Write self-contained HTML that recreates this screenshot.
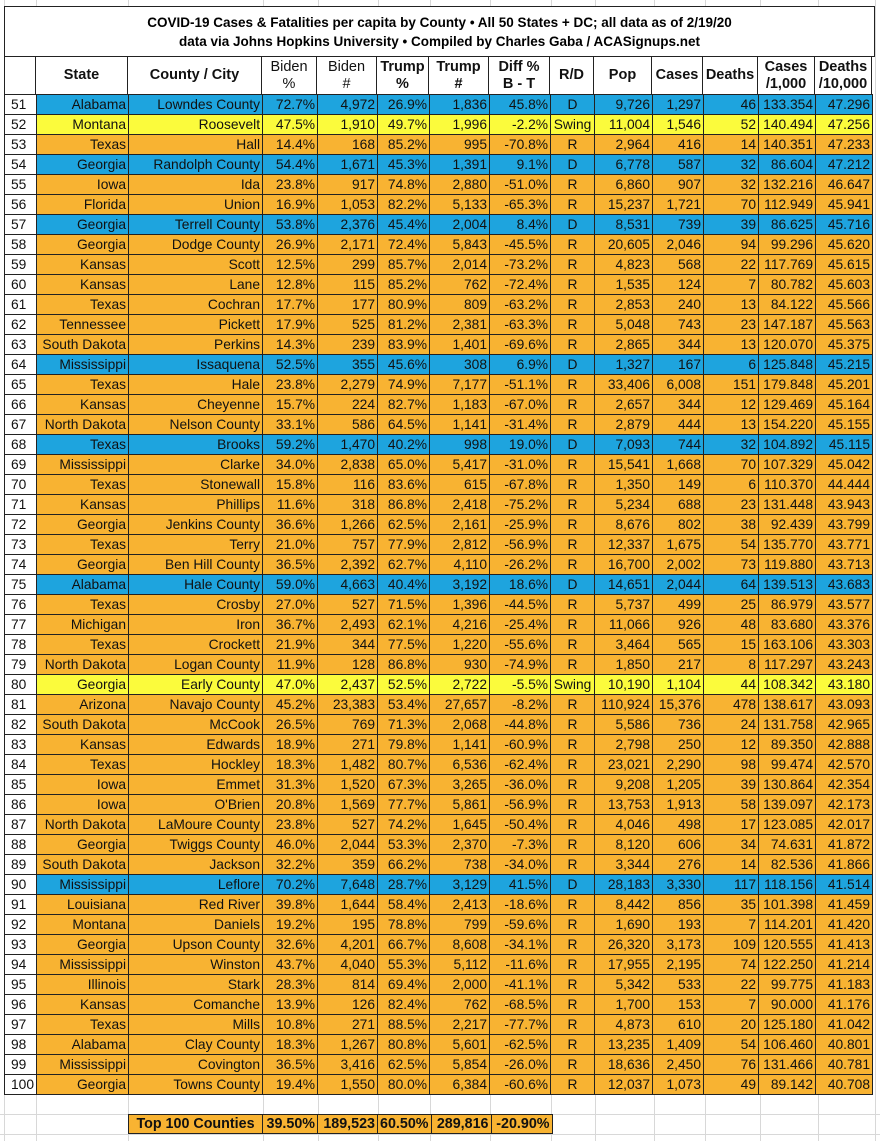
<!DOCTYPE html>
<html><head><meta charset="utf-8">
<style>
html,body{margin:0;padding:0}
body{width:880px;height:1141px;position:relative;background:#fff;font-family:"Liberation Sans",Arial,sans-serif;overflow:hidden}
.vg{position:absolute;top:0;height:1141px;width:1px;background:#d8d8d8}
.hg{position:absolute;left:0;width:880px;height:1px;background:#d8d8d8}
.title{position:absolute;left:4px;top:6px;width:871px;border:1px solid #222;background:#fff;text-align:center;font-weight:bold;font-size:13.5px;line-height:19px;padding-top:6px;box-sizing:border-box;height:51px}
table{position:absolute;left:4px;border-collapse:collapse;table-layout:fixed;font-size:13.8px}
td{border:1px solid #222;padding:0 2px;white-space:nowrap;overflow:hidden;text-align:right;height:19px;line-height:19px;color:#111}
td:first-child{text-align:left;background:#fff;padding-left:6px}
td:nth-child(9){text-align:center}
#hd td{text-align:center;font-weight:bold;height:37px;line-height:17px;background:#fff;padding:0;font-size:14.5px}
#hd td.n{font-weight:normal}
tr.b td{background:#1ea4de}
tr.y td{background:#fbfb3c}
tr.o td{background:#f8b332}
tr.b td:first-child,tr.y td:first-child,tr.o td:first-child{background:#fff}
#sum td{background:#f8b332;font-weight:bold;height:18px;line-height:18px;border:1.5px solid #222;font-size:14.3px}
#sum td:first-child{text-align:center;padding:0}
</style></head><body>
<div class="vg" style="left:4px"></div><div class="vg" style="left:36px"></div><div class="vg" style="left:128px"></div><div class="vg" style="left:263px"></div><div class="vg" style="left:318px"></div><div class="vg" style="left:378px"></div><div class="vg" style="left:430px"></div><div class="vg" style="left:490px"></div><div class="vg" style="left:551px"></div><div class="vg" style="left:595px"></div><div class="vg" style="left:654px"></div><div class="vg" style="left:705px"></div><div class="vg" style="left:760px"></div><div class="vg" style="left:818px"></div><div class="vg" style="left:875px"></div>
<div class="hg" style="top:1114px"></div><div class="hg" style="top:1134px"></div>
<div class="title">COVID-19 Cases &amp; Fatalities per capita by County • All 50 States + DC; all data as of 2/19/20<br>data via Johns Hopkins University • Compiled by Charles Gaba / ACASignups.net</div>
<table id="hd" style="top:56px">
<colgroup><col style="width:31px"><col style="width:92px"><col style="width:134px"><col style="width:55px"><col style="width:60px"><col style="width:52px"><col style="width:60px"><col style="width:61px"><col style="width:44px"><col style="width:58px"><col style="width:51px"><col style="width:55px"><col style="width:57px"><col style="width:57px"></colgroup>
<tr><td></td><td>State</td><td>County / City</td><td class="n">Biden<br>%</td><td class="n">Biden<br>#</td><td>Trump<br>%</td><td>Trump<br>#</td><td>Diff %<br>B - T</td><td>R/D</td><td>Pop</td><td>Cases</td><td>Deaths</td><td>Cases<br>/1,000</td><td>Deaths<br>/10,000</td></tr>
</table>
<table style="top:94px">
<colgroup><col style="width:31px"><col style="width:92px"><col style="width:134px"><col style="width:55px"><col style="width:60px"><col style="width:52px"><col style="width:60px"><col style="width:61px"><col style="width:44px"><col style="width:58px"><col style="width:51px"><col style="width:55px"><col style="width:57px"><col style="width:57px"></colgroup>
<tr class="b"><td>51</td><td>Alabama</td><td>Lowndes County</td><td>72.7%</td><td>4,972</td><td>26.9%</td><td>1,836</td><td>45.8%</td><td>D</td><td>9,726</td><td>1,297</td><td>46</td><td>133.354</td><td>47.296</td></tr>
<tr class="y"><td>52</td><td>Montana</td><td>Roosevelt</td><td>47.5%</td><td>1,910</td><td>49.7%</td><td>1,996</td><td>-2.2%</td><td>Swing</td><td>11,004</td><td>1,546</td><td>52</td><td>140.494</td><td>47.256</td></tr>
<tr class="o"><td>53</td><td>Texas</td><td>Hall</td><td>14.4%</td><td>168</td><td>85.2%</td><td>995</td><td>-70.8%</td><td>R</td><td>2,964</td><td>416</td><td>14</td><td>140.351</td><td>47.233</td></tr>
<tr class="b"><td>54</td><td>Georgia</td><td>Randolph County</td><td>54.4%</td><td>1,671</td><td>45.3%</td><td>1,391</td><td>9.1%</td><td>D</td><td>6,778</td><td>587</td><td>32</td><td>86.604</td><td>47.212</td></tr>
<tr class="o"><td>55</td><td>Iowa</td><td>Ida</td><td>23.8%</td><td>917</td><td>74.8%</td><td>2,880</td><td>-51.0%</td><td>R</td><td>6,860</td><td>907</td><td>32</td><td>132.216</td><td>46.647</td></tr>
<tr class="o"><td>56</td><td>Florida</td><td>Union</td><td>16.9%</td><td>1,053</td><td>82.2%</td><td>5,133</td><td>-65.3%</td><td>R</td><td>15,237</td><td>1,721</td><td>70</td><td>112.949</td><td>45.941</td></tr>
<tr class="b"><td>57</td><td>Georgia</td><td>Terrell County</td><td>53.8%</td><td>2,376</td><td>45.4%</td><td>2,004</td><td>8.4%</td><td>D</td><td>8,531</td><td>739</td><td>39</td><td>86.625</td><td>45.716</td></tr>
<tr class="o"><td>58</td><td>Georgia</td><td>Dodge County</td><td>26.9%</td><td>2,171</td><td>72.4%</td><td>5,843</td><td>-45.5%</td><td>R</td><td>20,605</td><td>2,046</td><td>94</td><td>99.296</td><td>45.620</td></tr>
<tr class="o"><td>59</td><td>Kansas</td><td>Scott</td><td>12.5%</td><td>299</td><td>85.7%</td><td>2,014</td><td>-73.2%</td><td>R</td><td>4,823</td><td>568</td><td>22</td><td>117.769</td><td>45.615</td></tr>
<tr class="o"><td>60</td><td>Kansas</td><td>Lane</td><td>12.8%</td><td>115</td><td>85.2%</td><td>762</td><td>-72.4%</td><td>R</td><td>1,535</td><td>124</td><td>7</td><td>80.782</td><td>45.603</td></tr>
<tr class="o"><td>61</td><td>Texas</td><td>Cochran</td><td>17.7%</td><td>177</td><td>80.9%</td><td>809</td><td>-63.2%</td><td>R</td><td>2,853</td><td>240</td><td>13</td><td>84.122</td><td>45.566</td></tr>
<tr class="o"><td>62</td><td>Tennessee</td><td>Pickett</td><td>17.9%</td><td>525</td><td>81.2%</td><td>2,381</td><td>-63.3%</td><td>R</td><td>5,048</td><td>743</td><td>23</td><td>147.187</td><td>45.563</td></tr>
<tr class="o"><td>63</td><td>South Dakota</td><td>Perkins</td><td>14.3%</td><td>239</td><td>83.9%</td><td>1,401</td><td>-69.6%</td><td>R</td><td>2,865</td><td>344</td><td>13</td><td>120.070</td><td>45.375</td></tr>
<tr class="b"><td>64</td><td>Mississippi</td><td>Issaquena</td><td>52.5%</td><td>355</td><td>45.6%</td><td>308</td><td>6.9%</td><td>D</td><td>1,327</td><td>167</td><td>6</td><td>125.848</td><td>45.215</td></tr>
<tr class="o"><td>65</td><td>Texas</td><td>Hale</td><td>23.8%</td><td>2,279</td><td>74.9%</td><td>7,177</td><td>-51.1%</td><td>R</td><td>33,406</td><td>6,008</td><td>151</td><td>179.848</td><td>45.201</td></tr>
<tr class="o"><td>66</td><td>Kansas</td><td>Cheyenne</td><td>15.7%</td><td>224</td><td>82.7%</td><td>1,183</td><td>-67.0%</td><td>R</td><td>2,657</td><td>344</td><td>12</td><td>129.469</td><td>45.164</td></tr>
<tr class="o"><td>67</td><td>North Dakota</td><td>Nelson County</td><td>33.1%</td><td>586</td><td>64.5%</td><td>1,141</td><td>-31.4%</td><td>R</td><td>2,879</td><td>444</td><td>13</td><td>154.220</td><td>45.155</td></tr>
<tr class="b"><td>68</td><td>Texas</td><td>Brooks</td><td>59.2%</td><td>1,470</td><td>40.2%</td><td>998</td><td>19.0%</td><td>D</td><td>7,093</td><td>744</td><td>32</td><td>104.892</td><td>45.115</td></tr>
<tr class="o"><td>69</td><td>Mississippi</td><td>Clarke</td><td>34.0%</td><td>2,838</td><td>65.0%</td><td>5,417</td><td>-31.0%</td><td>R</td><td>15,541</td><td>1,668</td><td>70</td><td>107.329</td><td>45.042</td></tr>
<tr class="o"><td>70</td><td>Texas</td><td>Stonewall</td><td>15.8%</td><td>116</td><td>83.6%</td><td>615</td><td>-67.8%</td><td>R</td><td>1,350</td><td>149</td><td>6</td><td>110.370</td><td>44.444</td></tr>
<tr class="o"><td>71</td><td>Kansas</td><td>Phillips</td><td>11.6%</td><td>318</td><td>86.8%</td><td>2,418</td><td>-75.2%</td><td>R</td><td>5,234</td><td>688</td><td>23</td><td>131.448</td><td>43.943</td></tr>
<tr class="o"><td>72</td><td>Georgia</td><td>Jenkins County</td><td>36.6%</td><td>1,266</td><td>62.5%</td><td>2,161</td><td>-25.9%</td><td>R</td><td>8,676</td><td>802</td><td>38</td><td>92.439</td><td>43.799</td></tr>
<tr class="o"><td>73</td><td>Texas</td><td>Terry</td><td>21.0%</td><td>757</td><td>77.9%</td><td>2,812</td><td>-56.9%</td><td>R</td><td>12,337</td><td>1,675</td><td>54</td><td>135.770</td><td>43.771</td></tr>
<tr class="o"><td>74</td><td>Georgia</td><td>Ben Hill County</td><td>36.5%</td><td>2,392</td><td>62.7%</td><td>4,110</td><td>-26.2%</td><td>R</td><td>16,700</td><td>2,002</td><td>73</td><td>119.880</td><td>43.713</td></tr>
<tr class="b"><td>75</td><td>Alabama</td><td>Hale County</td><td>59.0%</td><td>4,663</td><td>40.4%</td><td>3,192</td><td>18.6%</td><td>D</td><td>14,651</td><td>2,044</td><td>64</td><td>139.513</td><td>43.683</td></tr>
<tr class="o"><td>76</td><td>Texas</td><td>Crosby</td><td>27.0%</td><td>527</td><td>71.5%</td><td>1,396</td><td>-44.5%</td><td>R</td><td>5,737</td><td>499</td><td>25</td><td>86.979</td><td>43.577</td></tr>
<tr class="o"><td>77</td><td>Michigan</td><td>Iron</td><td>36.7%</td><td>2,493</td><td>62.1%</td><td>4,216</td><td>-25.4%</td><td>R</td><td>11,066</td><td>926</td><td>48</td><td>83.680</td><td>43.376</td></tr>
<tr class="o"><td>78</td><td>Texas</td><td>Crockett</td><td>21.9%</td><td>344</td><td>77.5%</td><td>1,220</td><td>-55.6%</td><td>R</td><td>3,464</td><td>565</td><td>15</td><td>163.106</td><td>43.303</td></tr>
<tr class="o"><td>79</td><td>North Dakota</td><td>Logan County</td><td>11.9%</td><td>128</td><td>86.8%</td><td>930</td><td>-74.9%</td><td>R</td><td>1,850</td><td>217</td><td>8</td><td>117.297</td><td>43.243</td></tr>
<tr class="y"><td>80</td><td>Georgia</td><td>Early County</td><td>47.0%</td><td>2,437</td><td>52.5%</td><td>2,722</td><td>-5.5%</td><td>Swing</td><td>10,190</td><td>1,104</td><td>44</td><td>108.342</td><td>43.180</td></tr>
<tr class="o"><td>81</td><td>Arizona</td><td>Navajo County</td><td>45.2%</td><td>23,383</td><td>53.4%</td><td>27,657</td><td>-8.2%</td><td>R</td><td>110,924</td><td>15,376</td><td>478</td><td>138.617</td><td>43.093</td></tr>
<tr class="o"><td>82</td><td>South Dakota</td><td>McCook</td><td>26.5%</td><td>769</td><td>71.3%</td><td>2,068</td><td>-44.8%</td><td>R</td><td>5,586</td><td>736</td><td>24</td><td>131.758</td><td>42.965</td></tr>
<tr class="o"><td>83</td><td>Kansas</td><td>Edwards</td><td>18.9%</td><td>271</td><td>79.8%</td><td>1,141</td><td>-60.9%</td><td>R</td><td>2,798</td><td>250</td><td>12</td><td>89.350</td><td>42.888</td></tr>
<tr class="o"><td>84</td><td>Texas</td><td>Hockley</td><td>18.3%</td><td>1,482</td><td>80.7%</td><td>6,536</td><td>-62.4%</td><td>R</td><td>23,021</td><td>2,290</td><td>98</td><td>99.474</td><td>42.570</td></tr>
<tr class="o"><td>85</td><td>Iowa</td><td>Emmet</td><td>31.3%</td><td>1,520</td><td>67.3%</td><td>3,265</td><td>-36.0%</td><td>R</td><td>9,208</td><td>1,205</td><td>39</td><td>130.864</td><td>42.354</td></tr>
<tr class="o"><td>86</td><td>Iowa</td><td>O'Brien</td><td>20.8%</td><td>1,569</td><td>77.7%</td><td>5,861</td><td>-56.9%</td><td>R</td><td>13,753</td><td>1,913</td><td>58</td><td>139.097</td><td>42.173</td></tr>
<tr class="o"><td>87</td><td>North Dakota</td><td>LaMoure County</td><td>23.8%</td><td>527</td><td>74.2%</td><td>1,645</td><td>-50.4%</td><td>R</td><td>4,046</td><td>498</td><td>17</td><td>123.085</td><td>42.017</td></tr>
<tr class="o"><td>88</td><td>Georgia</td><td>Twiggs County</td><td>46.0%</td><td>2,044</td><td>53.3%</td><td>2,370</td><td>-7.3%</td><td>R</td><td>8,120</td><td>606</td><td>34</td><td>74.631</td><td>41.872</td></tr>
<tr class="o"><td>89</td><td>South Dakota</td><td>Jackson</td><td>32.2%</td><td>359</td><td>66.2%</td><td>738</td><td>-34.0%</td><td>R</td><td>3,344</td><td>276</td><td>14</td><td>82.536</td><td>41.866</td></tr>
<tr class="b"><td>90</td><td>Mississippi</td><td>Leflore</td><td>70.2%</td><td>7,648</td><td>28.7%</td><td>3,129</td><td>41.5%</td><td>D</td><td>28,183</td><td>3,330</td><td>117</td><td>118.156</td><td>41.514</td></tr>
<tr class="o"><td>91</td><td>Louisiana</td><td>Red River</td><td>39.8%</td><td>1,644</td><td>58.4%</td><td>2,413</td><td>-18.6%</td><td>R</td><td>8,442</td><td>856</td><td>35</td><td>101.398</td><td>41.459</td></tr>
<tr class="o"><td>92</td><td>Montana</td><td>Daniels</td><td>19.2%</td><td>195</td><td>78.8%</td><td>799</td><td>-59.6%</td><td>R</td><td>1,690</td><td>193</td><td>7</td><td>114.201</td><td>41.420</td></tr>
<tr class="o"><td>93</td><td>Georgia</td><td>Upson County</td><td>32.6%</td><td>4,201</td><td>66.7%</td><td>8,608</td><td>-34.1%</td><td>R</td><td>26,320</td><td>3,173</td><td>109</td><td>120.555</td><td>41.413</td></tr>
<tr class="o"><td>94</td><td>Mississippi</td><td>Winston</td><td>43.7%</td><td>4,040</td><td>55.3%</td><td>5,112</td><td>-11.6%</td><td>R</td><td>17,955</td><td>2,195</td><td>74</td><td>122.250</td><td>41.214</td></tr>
<tr class="o"><td>95</td><td>Illinois</td><td>Stark</td><td>28.3%</td><td>814</td><td>69.4%</td><td>2,000</td><td>-41.1%</td><td>R</td><td>5,342</td><td>533</td><td>22</td><td>99.775</td><td>41.183</td></tr>
<tr class="o"><td>96</td><td>Kansas</td><td>Comanche</td><td>13.9%</td><td>126</td><td>82.4%</td><td>762</td><td>-68.5%</td><td>R</td><td>1,700</td><td>153</td><td>7</td><td>90.000</td><td>41.176</td></tr>
<tr class="o"><td>97</td><td>Texas</td><td>Mills</td><td>10.8%</td><td>271</td><td>88.5%</td><td>2,217</td><td>-77.7%</td><td>R</td><td>4,873</td><td>610</td><td>20</td><td>125.180</td><td>41.042</td></tr>
<tr class="o"><td>98</td><td>Alabama</td><td>Clay County</td><td>18.3%</td><td>1,267</td><td>80.8%</td><td>5,601</td><td>-62.5%</td><td>R</td><td>13,235</td><td>1,409</td><td>54</td><td>106.460</td><td>40.801</td></tr>
<tr class="o"><td>99</td><td>Mississippi</td><td>Covington</td><td>36.5%</td><td>3,416</td><td>62.5%</td><td>5,854</td><td>-26.0%</td><td>R</td><td>18,636</td><td>2,450</td><td>76</td><td>131.466</td><td>40.781</td></tr>
<tr class="o"><td>100</td><td>Georgia</td><td>Towns County</td><td>19.4%</td><td>1,550</td><td>80.0%</td><td>6,384</td><td>-60.6%</td><td>R</td><td>12,037</td><td>1,073</td><td>49</td><td>89.142</td><td>40.708</td></tr>
</table>
<table id="sum" style="left:128px;top:1114px">
<colgroup><col style="width:134px"><col style="width:55px"><col style="width:60px"><col style="width:52px"><col style="width:60px"><col style="width:61px"></colgroup>
<tr><td>Top 100 Counties</td><td>39.50%</td><td>189,523</td><td>60.50%</td><td>289,816</td><td>-20.90%</td></tr>
</table>
</body></html>
